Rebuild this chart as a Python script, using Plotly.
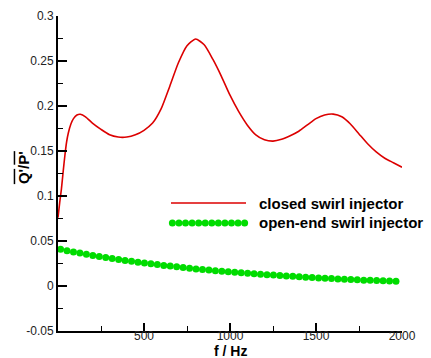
import numpy as np
import plotly.graph_objects as go

# closed swirl injector (red line)
closed_f = [0, 10, 20, 30, 40, 50, 60, 75, 90, 110, 130, 160, 200, 250, 300, 350, 400, 450,
            500, 550, 600, 650, 700, 750, 800, 850, 900, 950, 1000, 1050, 1100, 1150, 1200,
            1250, 1300, 1350, 1400, 1450, 1500, 1550, 1600, 1650, 1700, 1750, 1800, 1850,
            1900, 1950, 2000]
closed_v = [0.076, 0.093, 0.108, 0.127, 0.145, 0.160, 0.170, 0.180, 0.186, 0.190, 0.1908,
            0.188, 0.181, 0.174, 0.168, 0.1655, 0.1655, 0.168, 0.173, 0.181, 0.197, 0.222,
            0.248, 0.267, 0.2745, 0.268, 0.252, 0.233, 0.212, 0.194, 0.179, 0.168, 0.1625,
            0.161, 0.163, 0.167, 0.172, 0.179, 0.186, 0.190, 0.191, 0.188, 0.180, 0.169,
            0.158, 0.149, 0.142, 0.137, 0.132]

# open-end swirl injector (green markers)
open_f = [15 + 37.5 * k for k in range(53)]
open_v = [0.0407, 0.0393, 0.0379, 0.0366, 0.0353, 0.0340, 0.0328, 0.0317, 0.0306, 0.0295,
          0.0284, 0.0274, 0.0265, 0.0255, 0.0246, 0.0238, 0.0229, 0.0221, 0.0213, 0.0205,
          0.0198, 0.0190, 0.0183, 0.0177, 0.0170, 0.0164, 0.0158, 0.0152, 0.0146, 0.0141,
          0.0136, 0.0131, 0.0126, 0.0121, 0.0117, 0.0112, 0.0108, 0.0103, 0.0098, 0.0094,
          0.0090, 0.0086, 0.0082, 0.0078, 0.0075, 0.0072, 0.0069, 0.0065, 0.0063, 0.0060,
          0.0057, 0.0055, 0.0052]

x_ticks = [500, 1000, 1500, 2000]
x_minor = [250, 750, 1250, 1750]
y_ticks = [-0.05, 0, 0.05, 0.1, 0.15, 0.2, 0.25, 0.3]
y_tick_text = ["-0.05", "0", "0.05", "0.1", "0.15", "0.2", "0.25", "0.3"]
y_minor = [-0.025, 0.025, 0.075, 0.125, 0.175, 0.225, 0.275]

names = ["closed swirl injector", "open-end swirl injector"]
x_title = "<b>f / Hz</b>"
y_title = ("<b><span style='text-decoration:overline'>Q'</span>/"
           "<span style='text-decoration:overline'>P'</span></b>")
RED = "rgb(220,0,0)"
GREEN = "rgb(0,220,0)"
FONT = "Liberation Sans, Arial, sans-serif"

fig = go.Figure()
fig.add_trace(go.Scatter(x=closed_f, y=closed_v, mode="lines",
                         line=dict(color=RED, width=1.6, shape="spline", smoothing=0.6),
                         showlegend=False))
fig.add_trace(go.Scatter(x=open_f, y=open_v, mode="markers",
                         marker=dict(color=GREEN, size=7, line=dict(width=0)),
                         showlegend=False, cliponaxis=False))

# manual legend (samples on an overlay axis in paper units)
leg_x0, leg_x1 = 0.3285, 0.5465
leg_y = [0.4063, 0.3429]
fig.add_trace(go.Scatter(x=[leg_x0, leg_x1], y=[leg_y[0]] * 2, mode="lines", line=dict(color=RED, width=1.6),
                         xaxis="x2", yaxis="y2", showlegend=False, hoverinfo="skip"))
dots_x = list(np.linspace(leg_x0 + 0.004, leg_x1 - 0.004, 12))
fig.add_trace(go.Scatter(x=dots_x, y=[leg_y[1]] * 12, mode="markers", marker=dict(color=GREEN, size=7),
                         xaxis="x2", yaxis="y2", showlegend=False, hoverinfo="skip", cliponaxis=False))
for name, yy in zip(names, leg_y):
    fig.add_annotation(x=0.5785, y=yy, xref="paper", yref="paper", text="<b>%s</b>" % name, showarrow=False,
                       xanchor="left", yanchor="middle", font=dict(family=FONT, size=15, color="black"))

# axis titles
fig.add_annotation(x=0.5, y=-0.062, xref="paper", yref="paper", text=x_title, showarrow=False,
                   xanchor="center", yanchor="middle", font=dict(family=FONT, size=14, color="black"))
fig.add_annotation(x=-0.102, y=0.52, xref="paper", yref="paper", text=y_title, showarrow=False, textangle=-90,
                   xanchor="center", yanchor="middle", font=dict(family=FONT, size=15, color="black"))

fig.update_layout(
    width=431, height=358,
    margin=dict(l=58, r=29, t=16, b=27, autoexpand=False),
    plot_bgcolor="white", paper_bgcolor="white",
    font=dict(family=FONT, size=12, color="#222"),
    xaxis=dict(range=[0, 2000], tickvals=x_ticks, ticks="inside", ticklen=8, tickwidth=1.5, tickcolor="black",
               showline=True, linecolor="black", linewidth=2, showgrid=False, zeroline=False, automargin=False,
               minor=dict(tickvals=x_minor, ticks="inside", ticklen=5, tickwidth=1.2, tickcolor="black"),
               ticklabelstandoff=-7, tickfont=dict(size=12, color="#222")),
    yaxis=dict(range=[-0.05, 0.3], tickvals=y_ticks, ticktext=y_tick_text, ticks="inside", ticklen=9,
               tickwidth=1.5, tickcolor="black",
               showline=True, linecolor="black", linewidth=2, showgrid=False, zeroline=False, automargin=False,
               minor=dict(tickvals=y_minor, ticks="inside", ticklen=5, tickwidth=1.2, tickcolor="black"),
               tickfont=dict(size=12, color="#222")),
    xaxis2=dict(range=[0, 1], overlaying="x", visible=False, fixedrange=True),
    yaxis2=dict(range=[0, 1], overlaying="y", visible=False, fixedrange=True),
)

fig.write_html("out.html", config={"displayModeBar": False},
               post_script="document.body.style.margin='0';document.body.style.overflow='hidden';")
